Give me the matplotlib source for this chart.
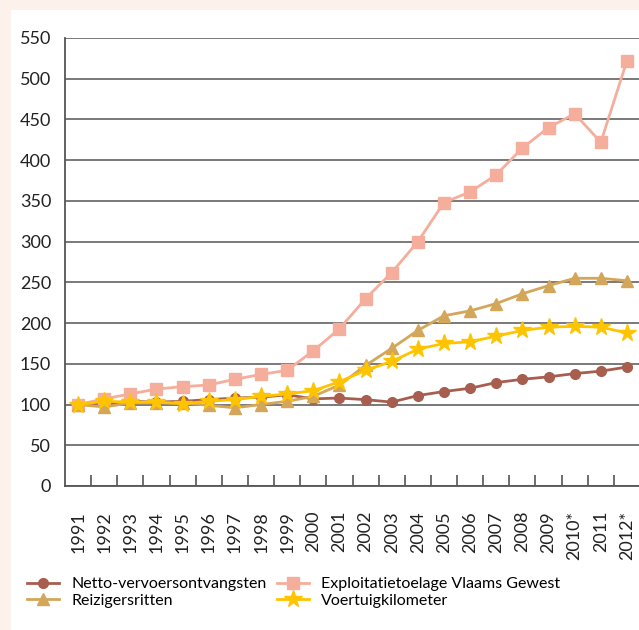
import matplotlib
matplotlib.use("Agg")
import matplotlib.pyplot as plt
from matplotlib.patches import Rectangle

plt.rcParams['font.family'] = ['Lato', 'DejaVu Sans']

years = ["1991", "1992", "1993", "1994", "1995", "1996", "1997", "1998", "1999", "2000",
         "2001", "2002", "2003", "2004", "2005", "2006", "2007", "2008", "2009", "2010*",
         "2011", "2012*"]
netto = [100, 101, 104, 103, 104, 106, 108, 109, 112, 107,
         108, 106, 103, 111, 116, 120, 127, 131, 134, 138, 141, 146]
exploitatie = [100, 107, 113, 119, 122, 124, 131, 137, 142, 166,
               193, 230, 262, 300, 348, 361, 382, 415, 440, 457, 422, 522]
reizigers = [100, 97, 102, 102, 102, 99, 96, 100, 104, 110,
             124, 148, 169, 191, 209, 215, 224, 236, 246, 255, 255, 252]
voertuig = [100, 104, 103, 103, 101, 104, 106, 110, 113, 117,
            128, 142, 153, 168, 175, 177, 184, 191, 195, 196, 195, 188]
yticks = [0, 50, 100, 150, 200, 250, 300, 350, 400, 450, 500, 550]

fig = plt.figure(figsize=(6.39, 6.30), dpi=100, facecolor="#FDF1EC")
fig.patches.append(Rectangle((11/639, 0), 1, 620/630, transform=fig.transFigure,
                             facecolor="white", edgecolor="none", zorder=-10))
ax = fig.add_axes([65/639, 1 - 486/630, 575/639, 448/630])
ax.set_zorder(2)
ax.set_facecolor("none")

x = list(range(len(years)))
lw = 2.0
ax.plot(x, netto, color="#A85E4F", lw=lw, marker="o", ms=7, label="Netto-vervoersontvangsten", zorder=3)
ax.plot(x, exploitatie, color="#F5AE9C", lw=lw, marker="s", ms=8, label="Exploitatietoelage Vlaams Gewest", zorder=3)
ax.plot(x, reizigers, color="#D4A65A", lw=lw, marker="^", ms=9, label="Reizigersritten", zorder=4)
ax.plot(x, voertuig, color="#FFC400", lw=lw, marker="*", ms=13, label="Voertuigkilometer", zorder=5)

ax.set_xlim(-0.5, len(years) - 0.5)
ax.set_ylim(0, 550)
ax.set_yticks(yticks)
ax.set_yticklabels([str(v) for v in yticks], fontsize=13, color="#222222")
ax.tick_params(axis="y", length=0, pad=10)
ax.set_xticks(x)
ax.set_xticklabels(years, rotation=90, fontsize=13, color="#222222", va="top")
ax.tick_params(axis="x", which="major", length=0, pad=18)
ax.set_xticks([i + 0.5 for i in range(len(years) - 1)], minor=True)
ax.tick_params(axis="x", which="minor", direction="in", length=8, width=1.2, color="#555555")

ax.grid(axis="y", color="#6E6E6E", lw=1.3, zorder=1)
ax.set_axisbelow(True)
for s in ["top", "right"]:
    ax.spines[s].set_visible(False)
for s in ["left", "bottom"]:
    ax.spines[s].set_color("#555555")
    ax.spines[s].set_linewidth(1.3)

h, l = ax.get_legend_handles_labels()
order = [0, 2, 1, 3]
fig.legend([h[i] for i in order], [l[i] for i in order], ncol=2, frameon=False,
           loc="upper left", bbox_to_anchor=(27/639, 1 - 577/630), fontsize=11.5,
           handlelength=2.0, columnspacing=0.6, labelspacing=0.15, handletextpad=0.8,
           borderaxespad=0, borderpad=0)

fig.savefig("out.png", dpi=100, facecolor=fig.get_facecolor())
